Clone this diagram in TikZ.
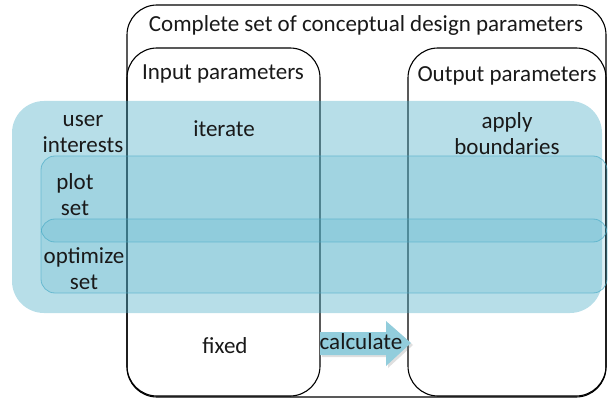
\documentclass[tikz,border=0pt]{standalone}
\usepackage{fontspec}
\setmainfont{Carlito}
\usetikzlibrary{shadows}
\definecolor{teal5}{RGB}{75,172,198}
\definecolor{arrowfill}{RGB}{146,205,220}
\begin{document}
\begin{tikzpicture}[x=1pt,y=-1pt,
  paramset/.style={draw=black,line width=1.1pt,rounded corners=30pt,inner sep=0pt,outer sep=0pt},
  bigset/.style={fill=teal5,fill opacity=0.4,draw=none,rounded corners=32pt,inner sep=0pt,outer sep=0pt},
  subset/.style={fill=teal5,fill opacity=0.2,draw=teal5,draw opacity=0.7,line width=0.8pt,rounded corners=14pt,inner sep=0pt,outer sep=0pt},
  lbl/.style={font=\fontsize{23}{26}\selectfont,align=center,inner sep=0pt,text=black!90}]
\useasboundingbox (0,0) rectangle (608,398);
% parameter boxes
\node[paramset,minimum width=479pt,minimum height=392pt] (all) at (366.5,201) {};
\node[paramset,minimum width=193pt,minimum height=348pt] (input) at (223.5,222) {};
\node[paramset,minimum width=198pt,minimum height=348pt] (output) at (507,222) {};
% user interest sets
\node[bigset,minimum width=590pt,minimum height=212pt] (user) at (307,207) {};
\node[subset,minimum width=566pt,minimum height=86pt] (plot) at (324,199) {};
\node[subset,minimum width=566pt,minimum height=74pt] (opt) at (324,256) {};
% calculate arrow
\fill[arrowfill,drop shadow={opacity=0.25,shadow xshift=2pt,shadow yshift=-2pt}]
  (320,332) -- (386,332) -- (386,321) -- (411,343) -- (386,366) -- (386,355) -- (320,355) -- cycle;
% labels
\node[lbl] (tall) at (366,25) {Complete set of conceptual design parameters};
\node[lbl] (tin) at (223,74) {Input parameters};
\node[lbl] (tout) at (507,76) {Output parameters};
\node[lbl] (tuser) at (83,134) {user\\interests};
\node[lbl] (titer) at (224,129) {iterate};
\node[lbl] (tapply) at (507,134) {apply\\boundaries};
\node[lbl] (tplot) at (75,195) {plot\\set};
\node[lbl] (topt) at (84,269) {optimize\\set};
\node[lbl] (tfixed) at (225,346) {fixed};
\node[lbl] (tcalc) at (361,342) {calculate};
\end{tikzpicture}
\end{document}
